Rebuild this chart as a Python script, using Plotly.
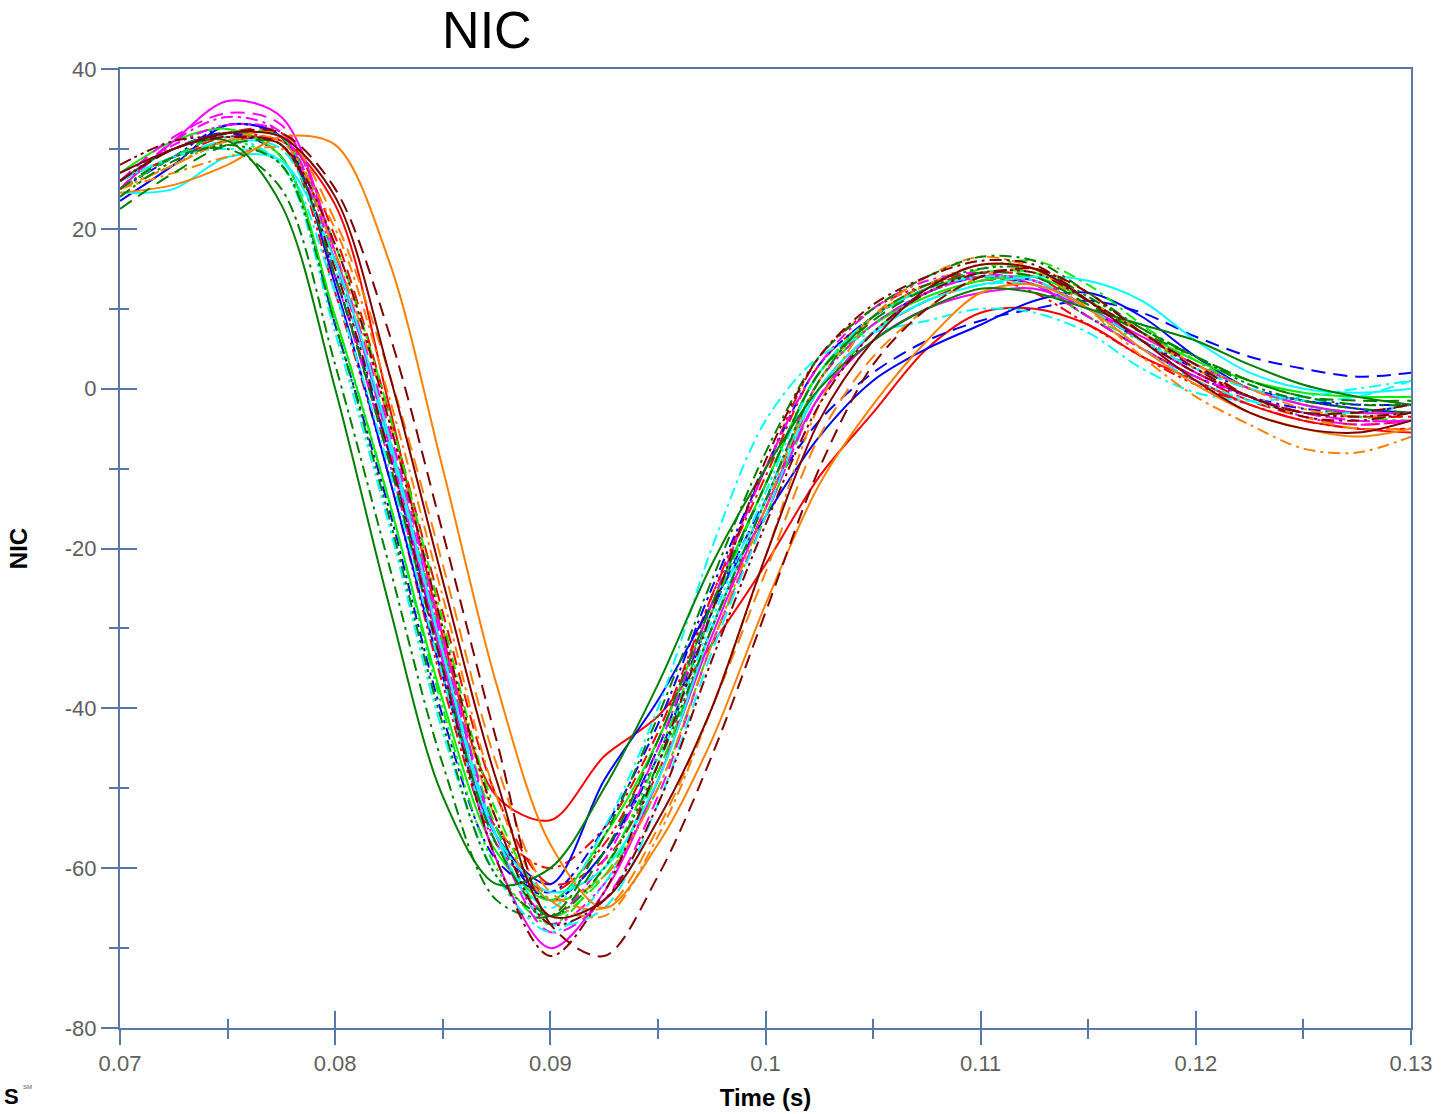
import plotly.graph_objects as go

# Time grid (s)
time_s = [0.070, 0.0725, 0.075, 0.0775, 0.080, 0.0825, 0.085, 0.0875, 0.090, 0.0925,
          0.095, 0.0975, 0.100, 0.1025, 0.105, 0.1075, 0.110, 0.1125, 0.115, 0.1175,
          0.120, 0.1225, 0.125, 0.1275, 0.130]

# NIC values per series
red_solid = [26, 29, 31, 31, 23, -2, -31, -51, -54, -46, -41, -32, -22, -11, -3, 5, 9.5, 10, 8, 4, 1, -2, -4, -5, -5.5]
red_dash = [25, 29, 32, 32, 19, -3, -28, -51, -62, -59, -48, -30, -15, 0, 7, 11, 13.5, 13, 9, 5, 1.5, -1.5, -3.5, -4.5, -4]
red_dashdot = [27, 30, 32, 30.5, 14, -8, -34, -55, -60, -55, -43, -26, -11, 3, 9, 13, 14.5, 14, 10, 6, 2, -1, -3, -3.5, -3.5]
red_dashdotdot = [26, 29, 31.5, 30.5, 12, -11, -37, -57, -63, -57, -44, -26, -10, 4, 10, 13, 14, 12, 8, 4, 0.5, -2, -4, -5, -5]

blue_solid = [23.5, 28, 33, 31.5, 13, -11, -36, -56, -62, -49, -39, -27, -16, -6, 1, 5, 8, 11, 12, 9, 4, 0, -1.5, -2.5, -3]
blue_dash = [25, 29, 32, 31.5, 16, -6, -32, -55, -64, -58, -45, -28, -14, -4, 2, 6, 8.5, 10, 11, 9.5, 6.5, 4, 2.5, 1.5, 2]
blue_dashdot = [26, 30, 32, 29, 8, -15, -41, -59, -63, -55, -42, -25, -10, 3, 9, 12.5, 14, 13, 9, 5, 1.5, -1, -2.5, -3, -2]
blue_dashdotdot = [25, 29, 33, 31.5, 14, -8, -34, -56, -64, -58, -46, -28, -12, 2, 8, 12, 14, 13.5, 10, 6, 2.5, 0, -1.5, -2, -2]

lime_solid = [27, 31, 32.5, 29, 9, -14, -39, -58, -64, -56, -44, -27, -12, 2, 8, 11.5, 13.5, 14, 11, 7, 3.5, 1, -0.5, -1, -1]
lime_dash = [25, 29, 32, 31.5, 16, -6, -32, -55, -66, -61, -48, -30, -14, 1, 8, 12, 14.5, 14.5, 11, 7, 3, 0, -2, -3, -3]
lime_dashdot = [26, 30, 32, 31.5, 18, -3, -29, -53, -64, -61, -50, -32, -16, -1, 7, 12, 15, 16, 13, 8, 3.5, 0, -2, -3.5, -4]
lime_dashdotdot = [25, 28, 31, 28, 9, -14, -40, -60, -67, -60, -46, -28, -12, 2, 9, 12.5, 14, 13, 9, 6, 3, 0, -2, -3, -3]

magenta_solid = [25, 31, 36, 34, 17, -7, -34, -59, -70, -63, -49, -31, -15, -1, 6, 10, 12, 12.5, 10, 6.5, 3, 0, -2, -3, -3]
magenta_dash = [26, 31.5, 34.5, 33, 17, -5, -31, -56, -68, -64, -51, -32, -16, -1, 7, 12, 14, 13.5, 10, 6, 2, -1, -3, -4, -4]
magenta_dashdot = [25, 31, 34, 32, 14, -9, -35, -57, -66, -59, -45, -27, -10, 3, 10, 13.5, 14.5, 13, 9, 5, 1.5, -1, -3, -4, -4]
magenta_dashdotdot = [26, 30.5, 33, 32, 16, -6, -32, -56, -67, -62, -49, -30, -14, 1, 8, 12, 14, 13.5, 10, 6, 2, -1, -3.5, -4.5, -4]

cyan_solid = [24.5, 25, 29, 28.5, 16, -6, -33, -56, -63, -60, -49, -30, -14, 0, 7, 11, 13, 14, 13.5, 11, 6, 2, 0, -0.5, 0]
cyan_dash = [26, 29, 31, 30, 15, -7, -33, -56, -67, -65, -52, -33, -16, 0, 7, 11, 13, 13, 10, 6, 2.5, 0, -1.5, -1, 1]
cyan_dashdot = [26, 29, 30, 28.5, 12, -10, -36, -57, -65, -55, -40, -20, -4, 4, 7, 8.5, 10, 9.5, 7, 2.5, -0.5, -1.5, -1, 0, 1]
cyan_dashdotdot = [26, 30, 31.5, 28, 7, -17, -43, -61, -68, -62, -47, -29, -13, 2, 9, 12.5, 14, 13.5, 10, 5, 1, -1.5, -3, -3, -2]

orange_solid = [24.5, 25.5, 28, 31.5, 30.5, 16, -10, -37, -57, -65, -57, -44, -27, -12, -2, 6, 12, 13, 10, 5, 0.5, -3, -5, -6, -5]
orange_dash = [25, 28, 31, 32, 21, 2, -22, -47, -63, -65, -55, -40, -23, -6, 4, 10, 14, 15, 12, 7, 2.5, -1, -3.5, -5, -5]
orange_dashdot = [25, 27, 29, 30, 20, -1, -26, -51, -64, -66, -56, -40, -21, -2, 9, 14, 16.5, 15, 10, 4, -1, -4.5, -7.5, -8, -6]
orange_dashdotdot = [25, 28, 31, 31, 17, -4, -30, -54, -64, -61, -50, -32, -15, 1, 9, 13, 15.5, 15, 11, 7, 3, 0, -2.5, -3.5, -3]

dkgreen_solid = [26, 30, 31, 23, 0, -27, -51, -62, -60, -50, -37, -22, -10, 0, 6, 10, 12.5, 12, 10, 8, 6, 3, 0.5, -1, -2]
dkgreen_dash = [22.5, 27, 30.5, 30.5, 14, -9, -35, -57, -66, -58, -44, -27, -12, 2, 8.5, 12.5, 14.5, 14, 10.5, 7, 4, 1, -1, -1.5, -1.5]
dkgreen_dashdot = [25, 29, 30, 25, 3, -22, -47, -64, -66, -56, -41, -24, -8, 4, 10, 14, 16.5, 16, 12, 7.5, 4, 1, -1, -2, -2]
dkgreen_dashdotdot = [24, 28.5, 30.5, 28, 8, -16, -42, -61, -66, -60, -47, -30, -14, 1, 9, 13, 15, 15, 11.5, 7.5, 4, 0.5, -1.5, -2.5, -3]

maroon_solid = [27, 30, 32, 31.5, 24, 2, -24, -49, -66, -64, -54, -40, -21, -4, 6, 12.5, 15.5, 15, 11, 6, 1, -3, -5, -5.5, -4]
maroon_dash = [26, 30, 32, 32, 25, 7, -18, -44, -67, -71, -61, -46, -28, -10, 3, 10, 14, 15, 12, 7, 3, -1, -3, -3, -2]
maroon_dashdot = [26, 30, 31.5, 30.5, 15, -8, -35, -59, -71, -63, -47, -28, -9, 4, 10.5, 14, 16, 15.5, 11, 6, 2, -1, -3.5, -4, -3]
maroon_dashdotdot = [28, 31, 31.5, 30.5, 18, -4, -30, -54, -67, -64, -52, -34, -17, -2, 7, 12, 14.5, 14.5, 11, 7, 2.5, -1, -3, -3.5, -3]

# Axis ticks
x_ticks = [0.07, 0.08, 0.09, 0.10, 0.11, 0.12, 0.13]
x_ticktext = ["0.07", "0.08", "0.09", "0.1", "0.11", "0.12", "0.13"]
y_ticks = [-80, -60, -40, -20, 0, 20, 40]
y_ticktext = ["-80", "-60", "-40", "-20", "0", "20", "40"]

RED, BLUE, LIME, MAG, CYAN, ORANGE, DKGREEN, MAROON = (
    "#ff0000", "#0000ff", "#00ee00", "#ff00ff", "#00ffff", "#ff8000", "#007f00", "#800000")
SOLID, DASH, DASHDOT, DASHDOTDOT = "solid", "14px,8px", "12px,5px,3px,5px", "12px,4px,3px,4px,3px,4px"

series = [
    (red_solid, RED, SOLID), (red_dash, RED, DASH), (red_dashdot, RED, DASHDOT), (red_dashdotdot, RED, DASHDOTDOT),
    (blue_solid, BLUE, SOLID), (blue_dash, BLUE, DASH), (blue_dashdot, BLUE, DASHDOT), (blue_dashdotdot, BLUE, DASHDOTDOT),
    (lime_solid, LIME, SOLID), (lime_dash, LIME, DASH), (lime_dashdot, LIME, DASHDOT), (lime_dashdotdot, LIME, DASHDOTDOT),
    (magenta_solid, MAG, SOLID), (magenta_dash, MAG, DASH), (magenta_dashdot, MAG, DASHDOT), (magenta_dashdotdot, MAG, DASHDOTDOT),
    (cyan_solid, CYAN, SOLID), (cyan_dash, CYAN, DASH), (cyan_dashdot, CYAN, DASHDOT), (cyan_dashdotdot, CYAN, DASHDOTDOT),
    (orange_solid, ORANGE, SOLID), (orange_dash, ORANGE, DASH), (orange_dashdot, ORANGE, DASHDOT), (orange_dashdotdot, ORANGE, DASHDOTDOT),
    (dkgreen_solid, DKGREEN, SOLID), (dkgreen_dash, DKGREEN, DASH), (dkgreen_dashdot, DKGREEN, DASHDOT), (dkgreen_dashdotdot, DKGREEN, DASHDOTDOT),
    (maroon_solid, MAROON, SOLID), (maroon_dash, MAROON, DASH), (maroon_dashdot, MAROON, DASHDOT), (maroon_dashdotdot, MAROON, DASHDOTDOT),
]

fig = go.Figure()
for vals, col, dash in series:
    fig.add_trace(go.Scatter(x=time_s, y=vals, mode="lines",
                             line=dict(color=col, width=2, dash=dash, shape="spline", smoothing=0.9),
                             showlegend=False, hoverinfo="skip"))

# dummy trace for overlay axes (inside half of the crossing ticks)
fig.add_trace(go.Scatter(x=[None], y=[None], xaxis="x2", yaxis="y2", showlegend=False, hoverinfo="skip"))

AX = "#5878a8"
FONT = "Liberation Sans, Arial"
TICKFONT = dict(family=FONT, size=22, color="#5f5f5f")

fig.update_layout(
    width=1449, height=1114,
    margin=dict(l=120, r=38, t=69, b=86),
    paper_bgcolor="white", plot_bgcolor="white",
    title=dict(text="NIC", x=0.336, xref="container", xanchor="center",
               y=0.973, yref="container", yanchor="middle",
               font=dict(family=FONT, size=52, color="black")),
    xaxis=dict(range=[0.07, 0.13], tickvals=x_ticks, ticktext=x_ticktext,
               showgrid=False, zeroline=False, showline=True, linecolor=AX, linewidth=2, mirror=True,
               ticks="outside", ticklen=15, tickwidth=2, tickcolor=AX, tickfont=TICKFONT,
               minor=dict(dtick=0.005, ticks="outside", ticklen=9, tickwidth=2, tickcolor=AX, showgrid=False),
               title=dict(text="<b>Time (s)</b>", standoff=14,
                          font=dict(family=FONT, size=24, color="black")),
               automargin=False),
    yaxis=dict(range=[-80, 40], tickvals=y_ticks, ticktext=y_ticktext,
               showgrid=False, zeroline=False, showline=True, linecolor=AX, linewidth=2, mirror=True,
               ticks="outside", ticklen=17, tickwidth=2, tickcolor=AX, tickfont=TICKFONT,
               minor=dict(dtick=10, ticks="outside", ticklen=9, tickwidth=2, tickcolor=AX, showgrid=False),
               title=dict(text="<b>NIC</b>", standoff=30,
                          font=dict(family=FONT, size=24, color="black")),
               automargin=False),
    xaxis2=dict(range=[0.07, 0.13], overlaying="x", side="bottom", anchor="y",
                tickvals=x_ticks, showticklabels=False,
                showgrid=False, zeroline=False, showline=False,
                ticks="inside", ticklen=17, tickwidth=2, tickcolor=AX,
                minor=dict(dtick=0.005, ticks="inside", ticklen=9, tickwidth=2, tickcolor=AX, showgrid=False)),
    yaxis2=dict(range=[-80, 40], overlaying="y", side="left", anchor="x",
                tickvals=y_ticks, showticklabels=False,
                showgrid=False, zeroline=False, showline=False,
                ticks="inside", ticklen=17, tickwidth=2, tickcolor=AX,
                minor=dict(dtick=10, ticks="inside", ticklen=9, tickwidth=2, tickcolor=AX, showgrid=False)),
)

# small logo mark at bottom-left corner
fig.add_annotation(text="<b>S</b>", xref="paper", yref="paper", x=-0.084, y=-0.071,
                   xanchor="center", yanchor="middle", showarrow=False,
                   font=dict(family=FONT, size=22, color="black"))
fig.add_annotation(text="SM", xref="paper", yref="paper", x=-0.077, y=-0.062,
                   xanchor="left", yanchor="middle", showarrow=False,
                   font=dict(family=FONT, size=6, color="#555555"))

fig.write_html("out.html")
